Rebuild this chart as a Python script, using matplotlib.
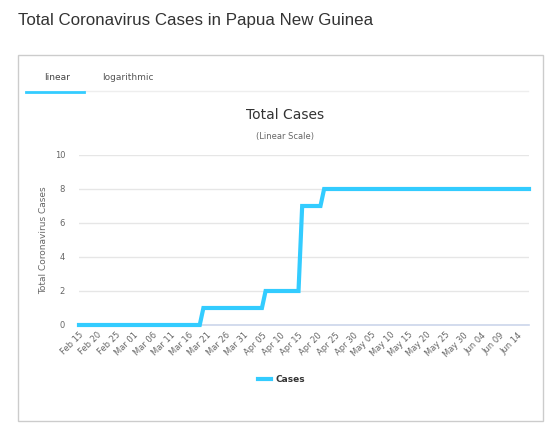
import numpy as np
import pandas as pd
import matplotlib
matplotlib.use("Agg")
import matplotlib.pyplot as plt
from matplotlib.patches import Rectangle
from matplotlib.lines import Line2D

# daily total cases, Feb 15 .. Jun 17 2020
dates = pd.date_range("2020-02-15", "2020-06-17", freq="D")
cases = [0, 0, 0, 0, 0, 0, 0, 0, 0, 0, 0, 0, 0, 0, 0, 0, 0,
         0, 0, 0, 0, 0, 0, 0, 0, 0, 0, 0, 0, 0, 0, 0, 0, 0,
         1, 1, 1, 1, 1, 1, 1, 1, 1, 1, 1, 1, 1, 1, 1, 1, 1,
         2, 2, 2, 2, 2, 2, 2, 2, 2, 2,
         7, 7, 7, 7, 7, 7,
         8, 8, 8, 8, 8, 8, 8, 8, 8, 8, 8, 8, 8, 8, 8, 8, 8, 8, 8, 8,
         8, 8, 8, 8, 8, 8, 8, 8, 8, 8, 8, 8, 8, 8, 8, 8, 8, 8, 8, 8,
         8, 8, 8, 8, 8, 8, 8, 8, 8, 8, 8, 8, 8, 8, 8, 8, 8]
labels = [d.strftime("%b %d") for d in dates]
yticks = [0, 2, 4, 6, 8, 10]

W, H = 550, 428
fig = plt.figure(figsize=(W / 100, H / 100), dpi=100)
fig.patch.set_facecolor("white")

def fx(x):
    return x / W

def fy(y):
    return 1 - y / H

# page title
fig.text(fx(18), fy(21), "Total Coronavirus Cases in Papua New Guinea",
         fontsize=12.2, family="Liberation Sans", color="#333333", va="center")

# chart box
fig.patches.append(Rectangle((fx(18), fy(421)), fx(525), 366 / H, transform=fig.transFigure,
                             fill=False, edgecolor="#cccccc", lw=1))

# tabs
fig.text(fx(57), fy(77), "linear", fontsize=6.5, color="#444444", ha="center", va="center")
fig.text(fx(128), fy(77), "logarithmic", fontsize=6.5, color="#555555", ha="center", va="center")
fig.lines.append(Line2D([fx(84), fx(528)], [fy(91), fy(91)], transform=fig.transFigure,
                        color="#eeeeee", lw=1))
fig.lines.append(Line2D([fx(26), fx(84)], [fy(91.5), fy(91.5)], transform=fig.transFigure,
                        color="#33ccff", lw=2))

# chart titles
fig.text(fx(285), fy(115), "Total Cases", fontsize=10, color="#333333", ha="center", va="center")
fig.text(fx(285), fy(137), "(Linear Scale)", fontsize=6, color="#666666", ha="center", va="center")

ax = fig.add_axes([fx(79), fy(325), (529 - 79) / W, (325 - 155) / H])
x = np.arange(len(cases))
ax.plot(x, cases, color="#33ccff", lw=3, solid_joinstyle="miter", zorder=3, clip_on=False)
ax.set_xlim(0, len(cases) - 1)
ax.set_ylim(0, 10)
ax.set_yticks(yticks)
ax.set_yticklabels([str(v) for v in yticks], fontsize=6, color="#666666")
ax.tick_params(axis="y", length=0, pad=10)
tick_idx = list(range(0, len(cases), 5))
ax.set_xticks(tick_idx)
ax.set_xticklabels([labels[i] for i in tick_idx], rotation=45, ha="right",
                   rotation_mode="anchor", fontsize=6, color="#666666")
ax.tick_params(axis="x", length=0, pad=4)
ax.grid(axis="y", color="#e6e6e6", lw=1)
ax.set_axisbelow(True)
for s in ["top", "right", "left"]:
    ax.spines[s].set_visible(False)
ax.spines["bottom"].set_color("#ccd6eb")
ax.spines["bottom"].set_linewidth(1.2)
ax.set_ylabel("Total Coronavirus Cases", fontsize=6.5, color="#666666", labelpad=5)

# legend
fig.lines.append(Line2D([fx(258), fx(271)], [fy(379), fy(379)], transform=fig.transFigure,
                        color="#33ccff", lw=3))
fig.text(fx(276), fy(379), "Cases", fontsize=6.5, fontweight="bold", color="#333333", va="center")

fig.savefig("out.png", dpi=100)
